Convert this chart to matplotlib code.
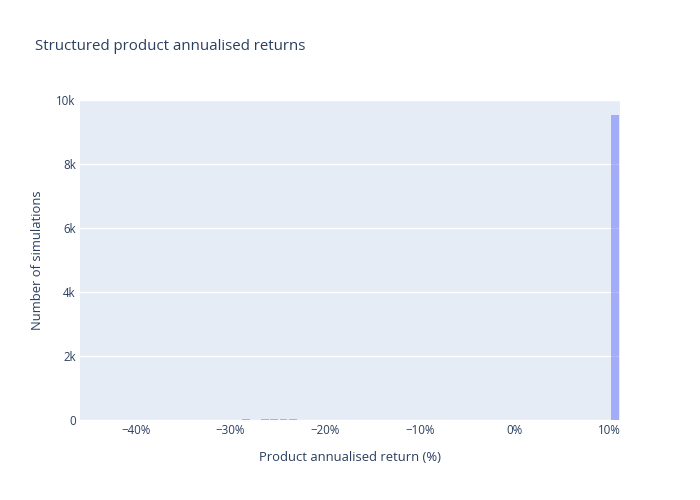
import numpy as np
import matplotlib
matplotlib.use("Agg")
import matplotlib.pyplot as plt
from matplotlib.ticker import FuncFormatter

# histogram bins: 1% wide, first edge at -45.9%
bin_start = -45.9
bin_size = 1.0
counts = [0, 0, 0, 0, 0, 0,
          1, 1, 2, 3,
          4, 5, 6, 7, 8, 9, 10,
          25, 15, 30, 35, 30, 25,
          12, 10, 8, 6, 5, 4, 3, 2,
          2, 1, 1, 1, 1,
          0, 0, 0, 0, 0, 0, 0, 0, 0, 0,
          0, 0, 0, 0, 0, 0, 0, 0, 0, 0,
          9530]
x_ticks = [-40, -30, -20, -10, 0, 10]
y_ticks = [0, 2000, 4000, 6000, 8000, 10000]

title = "Structured product annualised returns"
x_title = "Product annualised return (%)"
y_title = "Number of simulations"

plt.rcParams['font.family'] = ['Open Sans', 'DejaVu Sans']
text_col = '#2a3f5f'

fig = plt.figure(figsize=(7, 5), dpi=100)
ax = fig.add_axes([80 / 700, 80 / 500, 540 / 700, 320 / 500])
ax.set_facecolor('#E5ECF6')

edges = bin_start + bin_size * np.arange(len(counts) + 1)
centers = (edges[:-1] + edges[1:]) / 2
ax.bar(centers, counts, width=bin_size * 0.8, color='#636efa', alpha=0.5,
       linewidth=0, zorder=3)

ax.set_xlim(edges[0], edges[-1])
ax.set_ylim(0, 10006)
ax.set_xticks(x_ticks)
ax.set_yticks(y_ticks)
ax.xaxis.set_major_formatter(FuncFormatter(
    lambda v, p: f"{v:.0f}%".replace('-', '\u2212')))
ax.yaxis.set_major_formatter(FuncFormatter(
    lambda v, p: "0" if v == 0 else f"{v / 1000:.0f}k"))
ax.grid(axis='y', color='white', linewidth=1, zorder=0)
ax.set_axisbelow(True)
for s in ax.spines.values():
    s.set_visible(False)
ax.tick_params(length=0, labelsize=8.3, colors=text_col, pad=3)

ax.set_xlabel(x_title, fontsize=9.4, color=text_col, labelpad=10)
ax.set_ylabel(y_title, fontsize=9.4, color=text_col, labelpad=9)
fig.text(35 / 700, 1 - 47 / 500, title, fontsize=10.8, color=text_col,
         va='center', ha='left')

fig.savefig('out.png', dpi=100, facecolor='white')
